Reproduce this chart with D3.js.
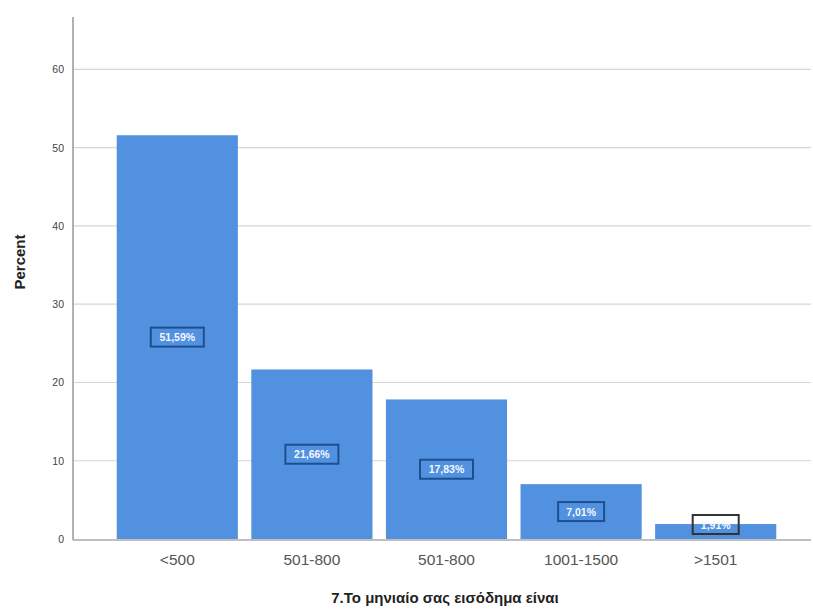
<!DOCTYPE html>
<html><head><meta charset="utf-8">
<script src="https://cdn.jsdelivr.net/npm/d3@7"></script>
<style>body{margin:0;background:#fff}svg{display:block}</style>
</head><body>
<svg id="c" width="813" height="612"></svg>
<script>
const categories = ["<500", "501-800", "501-800 ", "1001-1500", ">1501"];
const percents = [51.59, 21.66, 17.83, 7.01, 1.91];
const valueLabels = ["51,59%", "21,66%", "17,83%", "7,01%", "1,91%"];
const yTicks = [0, 10, 20, 30, 40, 50, 60];

const svg = d3.select("#c");
const L = 73, R = 811, T = 17, B = 539;
const y = d3.scaleLinear().domain([0, 66.7]).range([B, T]);
const x = d3.scaleBand().domain(categories).range([110, 783]).paddingInner(0.1).paddingOuter(0.05);
const blue = "#5191e0";
const font = "Arial, 'Liberation Sans', sans-serif";

// gridlines
svg.append("g").selectAll("line").data(yTicks.filter(d => d > 0)).join("line")
  .attr("x1", L).attr("x2", R).attr("y1", d => y(d)).attr("y2", d => y(d))
  .attr("stroke", "#d6d6d6").attr("stroke-width", 1.2);

// y axis
const ya = svg.append("g").attr("transform", `translate(${L},0)`)
  .call(d3.axisLeft(y).tickValues(yTicks).tickSize(0).tickPadding(9));
ya.select(".domain").remove();
ya.selectAll("text").attr("font-family", font).attr("font-size", 10.5).attr("fill", "#444");
svg.append("line").attr("x1", L).attr("x2", L).attr("y1", T).attr("y2", B + 1).attr("stroke", "#999").attr("stroke-width", 1.5);

// bars
svg.append("g").selectAll("rect").data(percents).join("rect")
  .attr("x", (d, i) => x(categories[i])).attr("width", x.bandwidth())
  .attr("y", d => y(d)).attr("height", d => B - y(d)).attr("fill", blue);

// x axis
const xa = svg.append("g").attr("transform", `translate(0,${B})`)
  .call(d3.axisBottom(x).tickSize(0).tickPadding(15));
xa.select(".domain").remove();
xa.selectAll("text").attr("font-family", font).attr("font-size", 15.5).attr("fill", "#555");
svg.append("line").attr("x1", L).attr("x2", R).attr("y1", B + 1).attr("y2", B + 1).attr("stroke", "#aaa").attr("stroke-width", 1.5);

// value labels
const lg = svg.append("g");
percents.forEach((v, i) => {
  const cx = x(categories[i]) + x.bandwidth() / 2;
  const w = v < 10 ? 46 : 53, h = 19;
  let cy = y(v / 2);
  if (cy + h / 2 > B - 2) cy = B - 2 - h / 2 - 3;
  const small = y(v) > cy - h / 2;
  lg.append("rect").attr("x", cx - w / 2).attr("y", cy - h / 2).attr("width", w).attr("height", h)
    .attr("fill", "none").attr("stroke", small ? "#333" : "#1d4f8f").attr("stroke-width", 2);
  lg.append("text").attr("x", cx).attr("y", cy + 4).attr("text-anchor", "middle")
    .attr("font-family", font).attr("font-weight", "bold").attr("font-size", 10.5)
    .attr("fill", "#f4f8ff").text(valueLabels[i]);
});

// titles
svg.append("text").attr("transform", "translate(25,262) rotate(-90)").attr("text-anchor", "middle")
  .attr("font-family", font).attr("font-weight", "bold").attr("font-size", 15).attr("fill", "#222").text("Percent");
svg.append("text").attr("x", 445).attr("y", 603).attr("text-anchor", "middle")
  .attr("font-family", font).attr("font-weight", "bold").attr("font-size", 15).attr("fill", "#222").text("7.Το μηνιαίο σας εισόδημα είναι");
</script>
</body></html>
